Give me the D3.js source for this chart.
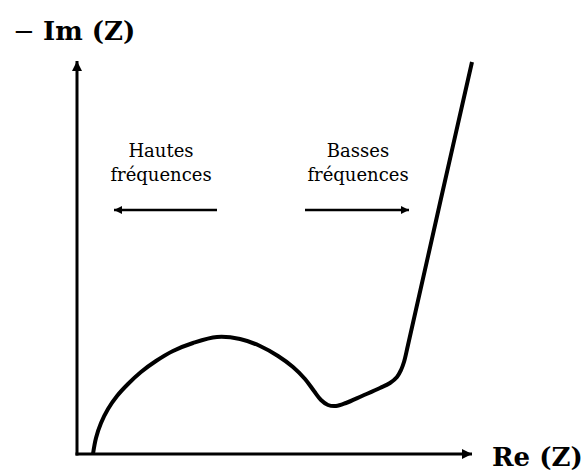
<!DOCTYPE html>
<html>
<head>
<meta charset="utf-8">
<script src="https://cdn.jsdelivr.net/npm/d3@7"></script>
<style>
  body { margin: 0; background: #fff; }
  svg text { font-family: 'DejaVu Serif', 'Liberation Serif', serif; fill: #000; }
</style>
</head>
<body>
<svg id="chart" width="587" height="471"></svg>
<script>
// Nyquist sketch: Re(Z) on x, -Im(Z) on y (arbitrary units 0..100)
var reZ   = [4.05, 4.81, 6.08, 7.85, 10.13, 12.91, 16.2, 20.0, 24.3, 29.37, 35.44, 41.27, 46.33, 50.89, 54.68, 57.72, 60.0, 61.77, 63.54, 65.57, 68.1, 72.15, 76.71, 79.24, 81.01, 82.03, 82.78, 83.8, 91.9, 100];
var negIm = [0, 4.08, 7.91, 11.48, 14.8, 17.86, 20.92, 23.72, 26.28, 28.32, 29.85, 29.34, 27.55, 25.0, 22.19, 19.13, 16.07, 13.78, 12.5, 12.24, 13.01, 14.8, 16.84, 18.11, 19.64, 21.43, 23.47, 27.81, 64.03, 100];

var axisLabels = { x: 'Re (Z)', y: 'Im (Z)' };
var hfLabel = ['Hautes', 'fréquences'];
var bfLabel = ['Basses', 'fréquences'];

var svg = d3.select('#chart');

var xScale = d3.scaleLinear().domain([0, 100]).range([77, 472]);
var yScale = d3.scaleLinear().domain([0, 100]).range([454, 62]);

var defs = svg.append('defs');
defs.append('marker')
    .attr('id', 'head')
    .attr('viewBox', '0 0 10 10')
    .attr('refX', 10)
    .attr('refY', 5)
    .attr('markerUnits', 'userSpaceOnUse')
    .attr('markerWidth', 11)
    .attr('markerHeight', 10)
    .attr('orient', 'auto')
    .append('path')
    .attr('d', 'M0,0 L10,5 L0,10 Z')
    .attr('fill', '#000');

defs.append('marker')
    .attr('id', 'headSmall')
    .attr('viewBox', '0 0 10 10')
    .attr('refX', 10)
    .attr('refY', 5)
    .attr('markerUnits', 'userSpaceOnUse')
    .attr('markerWidth', 10)
    .attr('markerHeight', 8)
    .attr('orient', 'auto')
    .append('path')
    .attr('d', 'M0,0 L10,5 L0,10 Z')
    .attr('fill', '#000');

// axes
svg.append('line')
    .attr('x1', xScale(0)).attr('y1', yScale(0) + 1.5)
    .attr('x2', xScale(0)).attr('y2', yScale(100) - 1)
    .attr('stroke', '#000').attr('stroke-width', 3)
    .attr('marker-end', 'url(#head)');

svg.append('line')
    .attr('x1', xScale(0) - 1.5).attr('y1', yScale(0))
    .attr('x2', xScale(100)).attr('y2', yScale(0))
    .attr('stroke', '#000').attr('stroke-width', 3)
    .attr('marker-end', 'url(#head)');

// impedance curve
var pts = reZ.map(function (d, i) { return [d, negIm[i]]; });
var line = d3.line()
    .x(function (d) { return xScale(d[0]); })
    .y(function (d) { return yScale(d[1]); })
    .curve(d3.curveCatmullRom.alpha(0.5));

svg.append('path')
    .datum(pts)
    .attr('d', line)
    .attr('fill', 'none')
    .attr('stroke', '#000')
    .attr('stroke-width', 4)
    .attr('stroke-linejoin', 'round');

// axis titles
var yt = svg.append('text')
    .attr('x', 13).attr('y', 40)
    .attr('font-size', 26);
yt.append('tspan').text('\u2212 ');
yt.append('tspan').attr('font-weight', 'bold').text(axisLabels.y);

svg.append('text')
    .attr('x', 492).attr('y', 466)
    .attr('font-size', 26).attr('font-weight', 'bold')
    .text(axisLabels.x);

// frequency annotations
function note(lines, cx) {
    var t = svg.append('text')
        .attr('text-anchor', 'middle')
        .attr('font-size', 18);
    t.selectAll('tspan')
        .data(lines)
        .enter()
        .append('tspan')
        .attr('x', cx)
        .attr('y', function (d, i) { return 157 + i * 24; })
        .text(function (d) { return d; });
}
note(hfLabel, 161);
note(bfLabel, 358);

svg.append('line')
    .attr('x1', 217).attr('y1', 210).attr('x2', 114).attr('y2', 210)
    .attr('stroke', '#000').attr('stroke-width', 2.5)
    .attr('marker-end', 'url(#headSmall)');

svg.append('line')
    .attr('x1', 305).attr('y1', 210).attr('x2', 409).attr('y2', 210)
    .attr('stroke', '#000').attr('stroke-width', 2.5)
    .attr('marker-end', 'url(#headSmall)');
</script>
</body>
</html>
